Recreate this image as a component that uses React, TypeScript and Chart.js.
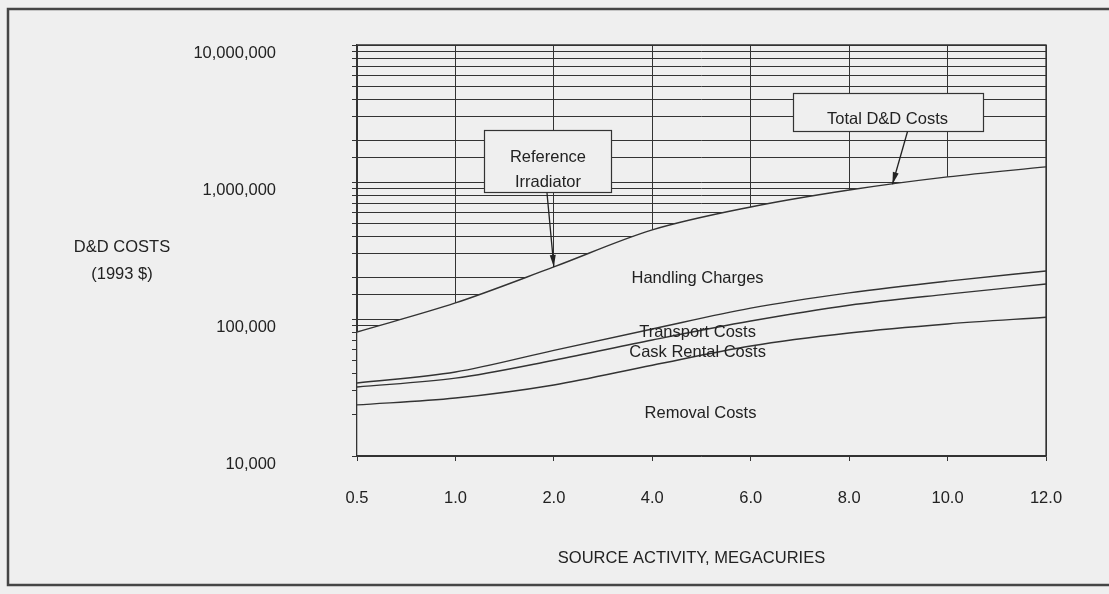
import React, { useEffect, useRef } from 'react';
import { Chart, registerables } from 'chart.js';

Chart.register(...registerables);

// ---- Data ----
const categories = ['0.5', '1.0', '2.0', '4.0', '6.0', '8.0', '10.0', '12.0'];
// cumulative cost curves (1993 $)
const removalCosts = [23600, 26500, 33000, 46000, 63500, 79000, 92000, 103000];
const caskRentalCosts = [31900, 37000, 50000, 70300, 96600, 126000, 152000, 180000];
const transportCosts = [34100, 41000, 59000, 84500, 120000, 155000, 189000, 224000];
const totalCosts = [80400, 131000, 240000, 447000, 657000, 874000, 1090000, 1290000];
const yLabelValues = [10000, 100000, 1000000, 10000000];
const regionLabels = ['Handling Charges', 'Transport Costs', 'Cask Rental Costs', 'Removal Costs'];
const calloutLabels = [['Reference', 'Irradiator'], ['Total D&D Costs']];
const yTitleLines = ['D&D COSTS', '(1993 $)'];
const xTitle = 'SOURCE ACTIVITY, MEGACURIES';

const BG = '#efefef';
const INK = '#333333';
const TEXT = '#222222';
const FONT = "'Liberation Sans', Arial, sans-serif";
const FS = 16.5;

function drawArrow(ctx: CanvasRenderingContext2D, x1: number, y1: number, x2: number, y2: number) {
  ctx.beginPath();
  ctx.moveTo(x1, y1);
  ctx.lineTo(x2, y2);
  ctx.stroke();
  const a = Math.atan2(y2 - y1, x2 - x1);
  const L = 12, W = 3;
  ctx.beginPath();
  ctx.moveTo(x2, y2);
  ctx.lineTo(x2 - L * Math.cos(a) + W * Math.sin(a), y2 - L * Math.sin(a) - W * Math.cos(a));
  ctx.lineTo(x2 - L * Math.cos(a) - W * Math.sin(a), y2 - L * Math.sin(a) + W * Math.cos(a));
  ctx.closePath();
  ctx.fill();
}

const decorPlugin = {
  id: 'decor',
  beforeDraw(chart: any) {
    const ctx = chart.ctx as CanvasRenderingContext2D;
    ctx.save();
    ctx.fillStyle = BG;
    ctx.fillRect(0, 0, chart.width, chart.height);
    ctx.strokeStyle = '#454545';
    ctx.lineWidth = 2.5;
    ctx.strokeRect(8, 9, chart.width + 10, 576);
    ctx.restore();
  },
  afterDraw(chart: any) {
    const ctx = chart.ctx as CanvasRenderingContext2D;
    const xs = chart.scales.x;
    const ys = chart.scales.y;
    const ca = chart.chartArea;
    const px = (i: number) => xs.getPixelForValue(i);
    const py = (v: number) => ys.getPixelForValue(v);
    const totalAt = (i: number) => {
      const i0 = Math.floor(i);
      const i1 = Math.min(i0 + 1, totalCosts.length - 1);
      const t = i - i0;
      return py(totalCosts[i0]) * (1 - t) + py(totalCosts[i1]) * t;
    };
    ctx.save();
    // plot frame: top and right edges
    ctx.strokeStyle = INK;
    ctx.lineWidth = 1.3;
    ctx.beginPath();
    ctx.moveTo(ca.left, ca.top);
    ctx.lineTo(ca.right, ca.top);
    ctx.lineTo(ca.right, ca.bottom);
    ctx.stroke();

    ctx.fillStyle = TEXT;
    ctx.font = `${FS}px ${FONT}`;
    ctx.textAlign = 'center';
    ctx.textBaseline = 'middle';

    // y-axis title (horizontal, two lines)
    ctx.fillText(yTitleLines[0], 122, 247);
    ctx.fillText(yTitleLines[1], 122, 274);

    // x-axis title
    ctx.fillText(xTitle, (ca.left + ca.right) / 2 - 10, 558);

    // region labels
    const regionPos = [
      [3.46, 199000],
      [3.46, 80400],
      [3.46, 57400],
      [3.49, 20300],
    ];
    regionLabels.forEach((lab, k) => {
      ctx.fillText(lab, px(regionPos[k][0]), py(regionPos[k][1]));
    });

    // callouts
    const boxes = [
      { at: [1.94, 1420000], w: 127, h: 62, tip: 2.0, dx: -1, textDy: [-4, 21] },
      { at: [5.39, 3240000], w: 190, h: 38, tip: 5.44, dx: 20, textDy: [7] },
    ];
    boxes.forEach((b, k) => {
      const cx = px(b.at[0]);
      const cy = py(b.at[1]);
      const x0 = Math.round(cx - b.w / 2) + 0.5;
      const y0 = Math.round(cy - b.h / 2) + 0.5;
      ctx.fillStyle = BG;
      ctx.fillRect(x0, y0, b.w, b.h);
      ctx.strokeStyle = INK;
      ctx.lineWidth = 1.2;
      ctx.strokeRect(x0, y0, b.w, b.h);
      ctx.fillStyle = TEXT;
      calloutLabels[k].forEach((t, j) => {
        ctx.fillText(t, cx, cy + b.textDy[j]);
      });
      ctx.strokeStyle = '#222';
      ctx.fillStyle = '#222';
      ctx.lineWidth = 1.3;
      const tipX = px(b.tip);
      const tipY = totalAt(b.tip);
      drawArrow(ctx, cx + b.dx, y0 + b.h, tipX, tipY);
    });
    ctx.restore();
  },
};

export default function App() {
  const ref = useRef<HTMLCanvasElement | null>(null);

  useEffect(() => {
    if (!ref.current) return;
    const lineStyle = {
      borderColor: INK,
      borderWidth: 1.4,
      pointRadius: 0,
      tension: 0.3,
      cubicInterpolationMode: 'monotone' as const,
      fill: false,
    };
    const chart = new Chart(ref.current, {
      type: 'line',
      data: {
        labels: categories,
        datasets: [
          { label: 'Removal Costs', data: removalCosts, ...lineStyle },
          { label: 'Cask Rental Costs', data: caskRentalCosts, ...lineStyle },
          { label: 'Transport Costs', data: transportCosts, ...lineStyle },
          {
            label: 'Total D&D Costs',
            data: totalCosts,
            ...lineStyle,
            fill: 'start',
            backgroundColor: BG,
          },
        ],
      },
      options: {
        animation: false,
        responsive: false,
        events: [],
        layout: { padding: { left: 0, top: 45, right: 63, bottom: 0 } },
        plugins: {
          legend: { display: false },
          tooltip: { enabled: false },
          title: { display: false },
          filler: { drawTime: 'beforeDatasetsDraw' },
        },
        scales: {
          x: {
            type: 'category',
            offset: false,
            afterFit: (s: any) => {
              s.height = 138;
              s.paddingLeft = 0;
              s.paddingRight = 0;
            },
            grid: {
              color: INK,
              lineWidth: 1,
              drawTicks: true,
              tickLength: 5,
              tickColor: INK,
            },
            border: { display: true, color: INK, width: 1.3, z: 1 },
            ticks: {
              color: TEXT,
              font: { family: FONT, size: FS },
              padding: 28,
              maxRotation: 0,
              autoSkip: false,
            },
            title: { display: false },
          },
          y: {
            type: 'logarithmic',
            min: 10000,
            max: 10000000,
            afterFit: (s: any) => {
              s.width = 357;
              s.paddingTop = 0;
              s.paddingBottom = 0;
            },
            grid: {
              color: INK,
              lineWidth: 1,
              drawTicks: true,
              tickLength: 5,
              tickColor: INK,
            },
            border: { display: true, color: INK, width: 1.3, z: 1 },
            ticks: {
              color: TEXT,
              font: { family: FONT, size: FS },
              padding: 76,
              labelOffset: 8,
              autoSkip: false,
              callback: (v: any) => {
                const n = Number(v);
                return yLabelValues.includes(n) ? n.toLocaleString('en-US') : '';
              },
            },
          },
        },
      },
      plugins: [decorPlugin],
    });
    return () => chart.destroy();
  }, []);

  return (
    <div
      style={{
        position: 'fixed',
        left: 0,
        top: 0,
        width: 1109,
        height: 594,
        background: BG,
      }}
    >
      <canvas ref={ref} width={1109} height={594} style={{ display: 'block' }} />
    </div>
  );
}
